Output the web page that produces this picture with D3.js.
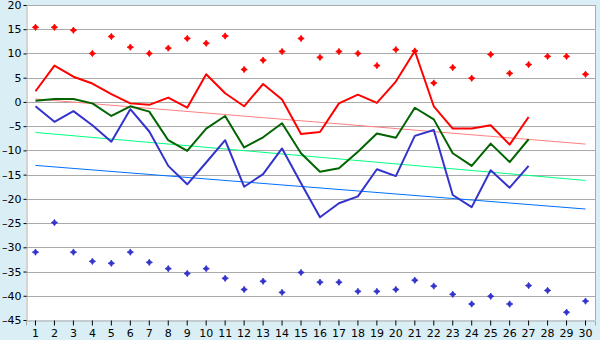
<!DOCTYPE html>
<html>
<head>
<meta charset="utf-8">
<script src="https://cdn.jsdelivr.net/npm/d3@7"></script>
<style>
  html, body { margin: 0; padding: 0; background: #daeef6; }
  svg { display: block; }
  text { font-family: "DejaVu Sans", Verdana, sans-serif; font-size: 11px; fill: #000; }
</style>
</head>
<body>
<svg id="chart" width="600" height="340"></svg>
<script>
// Days of the month
const days = d3.range(1, 31);

// Daily observed values (days 1–27)
const tMax = [2.2, 7.5, 5.2, 3.8, 1.6, -0.3, -0.6, 0.9, -1.2, 5.7,
              1.8, -0.9, 3.7, 0.5, -6.6, -6.2, -0.3, 1.5, -0.2, 4.2,
              10.5, -0.9, -5.5, -5.5, -4.8, -8.8, -3.1];
const tMean = [0.25, 0.6, 0.6, -0.3, -2.9, -0.9, -2.0, -7.9, -10.1, -5.5,
               -2.9, -9.4, -7.3, -4.4, -10.6, -14.4, -13.7, -10.3, -6.5, -7.4,
               -1.2, -3.6, -10.6, -13.2, -8.6, -12.4, -7.7];
const tMin = [-0.9, -4.1, -1.9, -4.8, -8.2, -1.5, -6.1, -13.2, -17.0, -12.5,
              -7.9, -17.5, -14.9, -9.6, -16.8, -23.8, -20.9, -19.5, -13.9, -15.3,
              -7.0, -5.8, -19.2, -21.7, -14.1, -17.7, -13.2];

// Record highs and lows for each day
const recHigh = [15.4, 15.4, 14.8, 10.0, 13.5, 11.3, 10.0, 11.1, 13.1, 12.1,
                 13.6, 6.7, 8.6, 10.4, 13.1, 9.2, 10.4, 10.0, 7.5, 10.8,
                 10.5, 3.9, 7.1, 4.9, 9.8, 5.9, 7.7, 9.4, 9.4, 5.7];
const recLow = [-31.0, -24.9, -31.0, -32.9, -33.3, -31.0, -33.1, -34.4, -35.4, -34.4,
                -36.4, -38.7, -37.0, -39.3, -35.2, -37.2, -37.2, -39.1, -39.1, -38.7,
                -36.8, -38.0, -39.7, -41.7, -40.1, -41.7, -37.9, -38.9, -43.4, -41.1];

// Normals at the first and last day of the month
const normDays = [1, 30];
const normMax = [0.6, -8.7];
const normMean = [-6.3, -16.2];
const normMin = [-13.1, -22.1];

// Y-axis ticks
const yTicks = d3.range(-45, 21, 5);

const svg = d3.select("#chart");
const L = 26, R = 595, T = 5, B = 320;

const x = d3.scaleBand().domain(days).range([L, R]);
const cx = d => x(d) + x.bandwidth() / 2;
const y = d3.scaleLinear().domain([-45, 20]).range([B, T]);

// Plot area
svg.append("rect").attr("x", L).attr("y", T).attr("width", R - L).attr("height", B - T)
  .attr("fill", "#fff");

// Horizontal grid
svg.append("g").selectAll("line").data(yTicks.filter(v => v > -45)).join("line")
  .attr("x1", L).attr("x2", R)
  .attr("y1", d => Math.round(y(d)) + 0.5).attr("y2", d => Math.round(y(d)) + 0.5)
  .attr("stroke", "#aaaaaa").attr("stroke-width", 1);

// Right border
svg.append("line").attr("x1", R + 0.5).attr("x2", R + 0.5).attr("y1", T).attr("y2", B)
  .attr("stroke", "#aaaaaa");

// Axes
const yAxis = d3.axisLeft(y).tickValues(yTicks).tickSize(3).tickPadding(2)
  .tickFormat(d => d < 0 ? "\u2013" + Math.abs(d) : d);
const gy = svg.append("g").attr("transform", `translate(${L + 0.5},0)`).call(yAxis);
gy.select(".domain").attr("stroke", "#aaaaaa");
gy.selectAll(".tick line").attr("stroke", "#000");
gy.selectAll(".tick text").style("font-size", "11px");

const xAxis = d3.axisBottom(x).tickSize(5).tickPadding(4);
const gx = svg.append("g").attr("transform", `translate(0,${B + 0.5})`).call(xAxis);
gx.select(".domain").attr("stroke", "#aaaaaa");
gx.selectAll(".tick line").attr("stroke", "#000");
gx.selectAll(".tick text").style("font-size", "11px");

// Normal trend lines
const trend = d3.line().x(d => cx(d[0])).y(d => y(d[1]));
[[normMax, "#ff8080"], [normMean, "#00ff80"], [normMin, "#0070ff"]].forEach(([vals, c]) => {
  svg.append("path").datum(normDays.map((d, i) => [d, vals[i]]))
    .attr("d", trend).attr("fill", "none").attr("stroke", c).attr("stroke-width", 1);
});

// Observed daily series
const line = d3.line().x((d, i) => cx(days[i])).y(d => y(d));
[[tMax, "#ff0000"], [tMean, "#006400"], [tMin, "#3333cc"]].forEach(([vals, c]) => {
  svg.append("path").datum(vals).attr("d", line)
    .attr("fill", "none").attr("stroke", c).attr("stroke-width", 2)
    .attr("stroke-linejoin", "round");
});

// Record markers
const marker = "M0,-3.2L1.2,-1.2L3.2,0L1.2,1.2L0,3.2L-1.2,1.2L-3.2,0L-1.2,-1.2Z";
[[recHigh, "#ff0000"], [recLow, "#3333cc"]].forEach(([vals, c]) => {
  svg.append("g").selectAll("path").data(vals).join("path")
    .attr("d", marker)
    .attr("transform", (d, i) => `translate(${cx(days[i])},${y(d)})`)
    .attr("fill", c).attr("stroke", c).attr("stroke-width", 0.8);
});
</script>
</body>
</html>
